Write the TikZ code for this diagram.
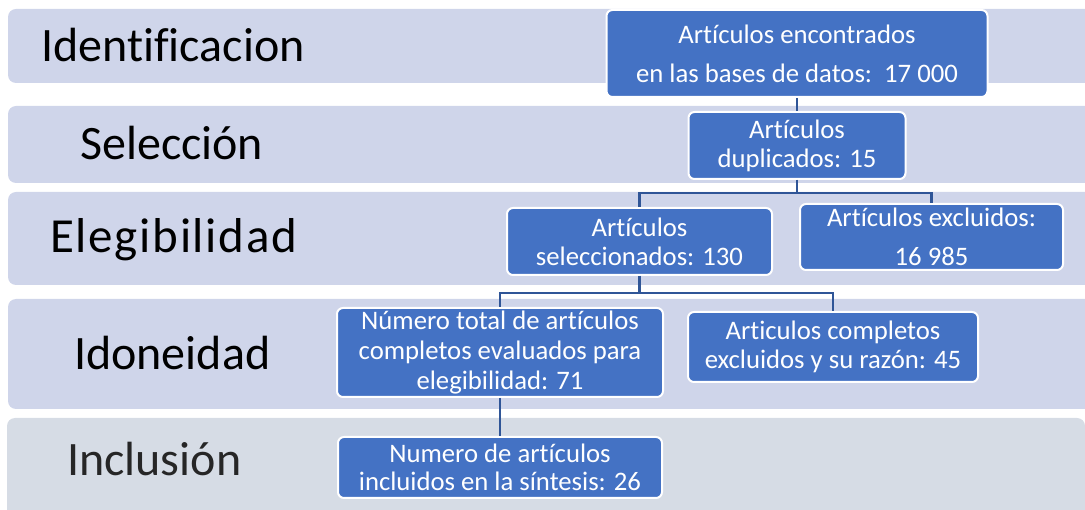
\documentclass[tikz,border=0pt]{standalone}
\usepackage{fontspec}
\setmainfont{Carlito}[Ligatures={NoCommon}]
\definecolor{bandc}{HTML}{CFD5EA}
\definecolor{bandlast}{HTML}{D6DCE5}
\definecolor{boxblue}{HTML}{4472C4}
\definecolor{linkc}{HTML}{2F5597}
\tikzset{
  band/.style={fill=bandc, rounded corners=8pt},
  bandlabel/.style={anchor=base west, inner sep=0pt, font=\fontsize{48}{56}\selectfont, text=black},
  bluebox/.style={rectangle, rounded corners=6pt, fill=boxblue, draw=white, line width=2pt,
    text=white, align=center, inner sep=0pt, font=\fontsize{26.7}{29}\selectfont},
  widebox/.style={bluebox, font=\fontsize{26.7}{39}\selectfont},
  link/.style={draw=linkc, line width=2.3pt}
}
\begin{document}
\begin{tikzpicture}[x=1pt,y=-1pt]
\useasboundingbox (0,0) rectangle (1085,510);
\clip (0,0) rectangle (1085,510);
% bands
\path[band] (8,9) rectangle (1110,83);
\path[band] (8,106) rectangle (1110,183);
\path[band] (8,192) rectangle (1110,285);
\path[band] (8,299) rectangle (1110,409);
\path[band, fill=bandlast] (7,418) rectangle (1085,530);
% band labels
\node[bandlabel] (l1) at (41,62) {Identificacion};
\node[bandlabel] (l2) at (80,160) {Selección};
\node[bandlabel, font=\fontsize{49}{56}\selectfont\addfontfeatures{LetterSpace=3.5}] (l3) at (50,253) {Elegibilidad};
\node[bandlabel] (l4) at (74,370) {Idoneidad};
\node[bandlabel, text=black!85] (l5) at (67,476) {Inclusión};
% boxes
\node[widebox, minimum width=381pt, minimum height=87pt] (b1) at (797,53.5)
  {Artículos encontrados\\en las bases de datos:\ \ 17 000};
\node[bluebox, minimum width=217pt, minimum height=67pt] (b2) at (797,145.5)
  {Artículos\\duplicados: 15};
\node[bluebox, minimum width=265pt, minimum height=67pt] (b3) at (639.5,241.5)
  {Artículos\\seleccionados: 130};
\node[widebox, minimum width=263pt, minimum height=66pt] (b4) at (931.5,237)
  {Artículos excluidos:\\16 985};
\node[bluebox, font=\fontsize{26.7}{30}\selectfont, minimum width=326pt, minimum height=89pt] (b5) at (500,352.5)
  {Número total de artículos\\completos evaluados para\\elegibilidad: 71};
\node[bluebox, minimum width=290pt, minimum height=70pt] (b6) at (833,347)
  {Articulos completos\\excluidos y su razón: 45};
\node[bluebox, font=\fontsize{26.7}{28}\selectfont, minimum width=324pt, minimum height=61pt] (b7) at (500,467.5)
  {Numero de artículos\\incluidos en la síntesis: 26};
% connectors
\draw[link] (b1.south) -- (b2.north);
\draw[link] (b2.south) -- ++(0,13) -| (b3.north);
\draw[link] (b2.south) -- ++(0,13) -| (b4.north);
\draw[link] (b3.south) -- ++(0,17) -| (b5.north);
\draw[link] (b3.south) -- ++(0,17) -| (b6.north);
\draw[link] (b5.south) -- (b7.north);
\end{tikzpicture}
\end{document}
